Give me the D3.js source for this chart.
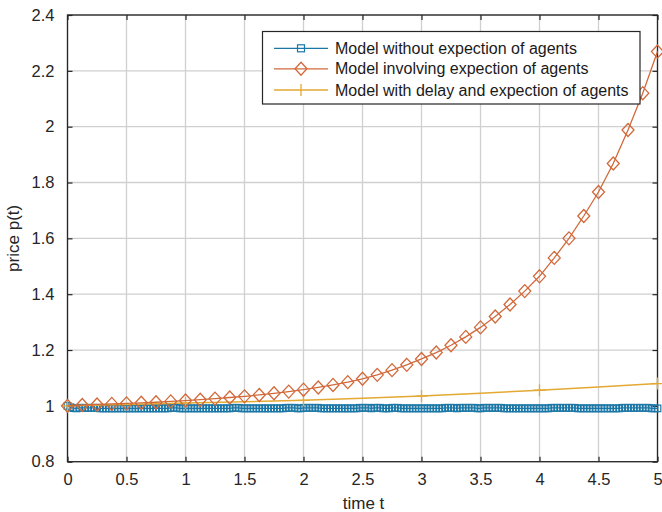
<!DOCTYPE html>
<html><head><meta charset="utf-8">
<script src="https://cdn.jsdelivr.net/npm/d3@7"></script>
<style>body{margin:0;background:#fff}svg{display:block}text{font-family:"Liberation Sans",Arial,sans-serif}</style>
</head><body><svg id="c" width="662" height="512"></svg>
<script>
// ---- data ----
const seriesNames = ["Model without expection of agents","Model involving expection of agents","Model with delay and expection of agents"];
const xTicks = [0,0.5,1,1.5,2,2.5,3,3.5,4,4.5,5];
const yTicks = [0.8,1,1.2,1.4,1.6,1.8,2,2.2,2.4];
// blue: t = 0..5 step 0.025
const blueStep = 0.025;
const blueValues = [
1.000,0.995,0.992,0.991,0.993,0.993,0.993,0.993,0.993,0.993,0.993,0.991,0.991,0.991,0.991,0.991,0.991,0.991,0.991,0.991,
0.991,0.991,0.991,0.991,0.991,0.991,0.991,0.991,0.991,0.991,0.991,0.991,0.991,0.991,0.991,0.993,0.993,0.993,0.991,0.991,
0.991,0.991,0.991,0.991,0.991,0.991,0.991,0.991,0.991,0.991,0.991,0.991,0.991,0.991,0.991,0.991,0.993,0.993,0.993,0.991,
0.991,0.991,0.991,0.991,0.991,0.991,0.991,0.991,0.991,0.991,0.991,0.991,0.991,0.991,0.993,0.993,0.993,0.993,0.991,0.991,
0.993,0.993,0.993,0.993,0.993,0.993,0.991,0.991,0.991,0.991,0.991,0.991,0.991,0.991,0.991,0.991,0.991,0.991,0.991,0.993,
0.993,0.993,0.993,0.991,0.993,0.993,0.993,0.991,0.991,0.991,0.993,0.993,0.993,0.991,0.991,0.991,0.991,0.991,0.991,0.991,
0.991,0.991,0.991,0.991,0.991,0.991,0.991,0.991,0.993,0.993,0.993,0.993,0.991,0.993,0.993,0.993,0.993,0.993,0.993,0.991,
0.991,0.993,0.993,0.993,0.993,0.993,0.993,0.993,0.991,0.991,0.991,0.991,0.991,0.991,0.991,0.991,0.991,0.991,0.991,0.991,
0.991,0.991,0.991,0.991,0.993,0.993,0.993,0.993,0.993,0.993,0.993,0.993,0.993,0.991,0.991,0.991,0.991,0.991,0.991,0.991,
0.991,0.991,0.991,0.991,0.991,0.991,0.991,0.991,0.993,0.993,0.993,0.993,0.993,0.993,0.993,0.993,0.993,0.993,0.991,0.991,
0.991];
// orange: t = 0..5 step 0.125
const orangeStep = 0.125;
const orangeValues = [1.000,1.003,1.005,1.007,1.009,1.011,1.013,1.016,1.019,1.022,1.026,1.030,1.034,1.039,1.045,1.051,
1.058,1.066,1.075,1.085,1.097,1.111,1.128,1.147,1.168,1.191,1.217,1.247,1.281,1.320,1.363,1.411,
1.464,1.530,1.600,1.680,1.766,1.868,1.988,2.120,2.269];
// yellow: t = 0..5 step 0.5, markers at integer t
const yellowStep = 0.5;
const yellowValues = [1.000,1.005,1.010,1.015,1.020,1.027,1.035,1.045,1.056,1.068,1.080];
const colors = ["#1b77a6","#d2693a","#e3a932"];

// ---- layout ----
const W=662,H=512, L=67.5, R=657.5, T=15, B=461.7;
const svg=d3.select("#c");
const x=d3.scaleLinear().domain([0,5]).range([L,R]);
const y=d3.scaleLinear().domain([0.8,2.4]).range([B,T]);
const axisColor="#262626";

// grid
const g=svg.append("g");
g.selectAll(".gx").data(xTicks).join("line").attr("x1",d=>x(d)).attr("x2",d=>x(d)).attr("y1",T).attr("y2",B).attr("stroke","#d0d0d0").attr("stroke-width",1.3);
g.selectAll(".gy").data(yTicks).join("line").attr("y1",d=>y(d)).attr("y2",d=>y(d)).attr("x1",L).attr("x2",R).attr("stroke","#d0d0d0").attr("stroke-width",1.3);

// axes (inner ticks, box)
function ax(gen, tx, ty, labels){
  const a=svg.append("g").attr("transform",`translate(${tx},${ty})`).call(gen);
  a.select(".domain").remove();
  a.selectAll(".tick line").attr("stroke",axisColor).attr("stroke-width",1.2);
  a.selectAll("text").attr("fill",axisColor).style("font-size", labels?"16.5px":"0px");
  return a;
}
ax(d3.axisBottom(x).tickValues(xTicks).tickSize(-5).tickPadding(12).tickFormat(d3.format("")),0,B,true);
ax(d3.axisTop(x).tickValues(xTicks).tickSize(-5).tickFormat(""),0,T,false);
ax(d3.axisLeft(y).tickValues(yTicks).tickSize(-5).tickPadding(13).tickFormat(d3.format("")),L,0,true);
ax(d3.axisRight(y).tickValues(yTicks).tickSize(-5).tickFormat(""),R,0,false);
svg.append("rect").attr("x",L).attr("y",T).attr("width",R-L).attr("height",B-T).attr("fill","none").attr("stroke",axisColor).attr("stroke-width",1.3);

// plot clip
svg.append("clipPath").attr("id","clip").append("rect").attr("x",L-8).attr("y",T).attr("width",R-L+16).attr("height",B-T);
const plot=svg.append("g").attr("clip-path","url(#clip)");

const blue=blueValues.map((v,i)=>({t:i*blueStep,v}));
const orange=orangeValues.map((v,i)=>({t:i*orangeStep,v}));
const yellow=yellowValues.map((v,i)=>({t:i*yellowStep,v}));
const line=d3.line().x(d=>x(d.t)).y(d=>y(d.v));

// blue
plot.append("path").datum(blue).attr("d",line).attr("fill","none").attr("stroke",colors[0]).attr("stroke-width",1.2);
plot.selectAll(".sq").data(blue).join("rect").attr("x",d=>x(d.t)-3.3).attr("y",d=>y(d.v)-3.3).attr("width",6.6).attr("height",6.6)
  .attr("fill","none").attr("stroke",colors[0]).attr("stroke-width",1.2);
// yellow
plot.append("path").datum(yellow).attr("d",line).attr("fill","none").attr("stroke",colors[2]).attr("stroke-width",1.5);
plot.selectAll(".pl").data(yellow.filter((d,i)=>i%2===0)).join("path")
  .attr("d",d=>`M${x(d.t)-6},${y(d.v)}H${x(d.t)+6}M${x(d.t)},${y(d.v)-6}V${y(d.v)+6}`).attr("stroke",colors[2]).attr("stroke-width",1.3);
// orange
plot.append("path").datum(orange).attr("d",line).attr("fill","none").attr("stroke",colors[1]).attr("stroke-width",1.3);
plot.selectAll(".dm").data(orange).join("path")
  .attr("d",d=>{const cx=x(d.t),cy=y(d.v);return `M${cx},${cy-6.5}L${cx+6},${cy}L${cx},${cy+6.5}L${cx-6},${cy}Z`;})
  .attr("fill","none").attr("stroke",colors[1]).attr("stroke-width",1.3);

// labels
svg.append("text").attr("x",(L+R)/2+1).attr("y",509).attr("text-anchor","middle").attr("fill",axisColor).style("font-size","17px").text("time t");
svg.append("text").attr("transform",`translate(19,${(T+B)/2}) rotate(-90)`).attr("text-anchor","middle").attr("fill",axisColor).style("font-size","17px").text("price p(t)");

// legend
const lg=svg.append("g");
lg.append("rect").attr("x",262.5).attr("y",31.5).attr("width",377.5).attr("height",72.5).attr("fill","#fff").attr("stroke",axisColor).attr("stroke-width",1.2);
const rows=[48.3,68.8,90];
seriesNames.forEach((name,i)=>{
  const yy=rows[i];
  lg.append("line").attr("x1",274).attr("x2",328).attr("y1",yy).attr("y2",yy).attr("stroke",colors[i]).attr("stroke-width",1.3);
  const cx=301;
  if(i===0) lg.append("rect").attr("x",cx-3.5).attr("y",yy-3.5).attr("width",7).attr("height",7).attr("fill","none").attr("stroke",colors[0]).attr("stroke-width",1.2);
  if(i===1) lg.append("path").attr("d",`M${cx},${yy-6.5}L${cx+6},${yy}L${cx},${yy+6.5}L${cx-6},${yy}Z`).attr("fill","none").attr("stroke",colors[1]).attr("stroke-width",1.3);
  if(i===2) lg.append("path").attr("d",`M${cx},${yy-6}V${yy+6}`).attr("stroke",colors[2]).attr("stroke-width",1.3);
  lg.append("text").attr("x",335).attr("y",yy+5.5).attr("fill","#1a1a1a").style("font-size","16px").text(name);
});
</script></body></html>
